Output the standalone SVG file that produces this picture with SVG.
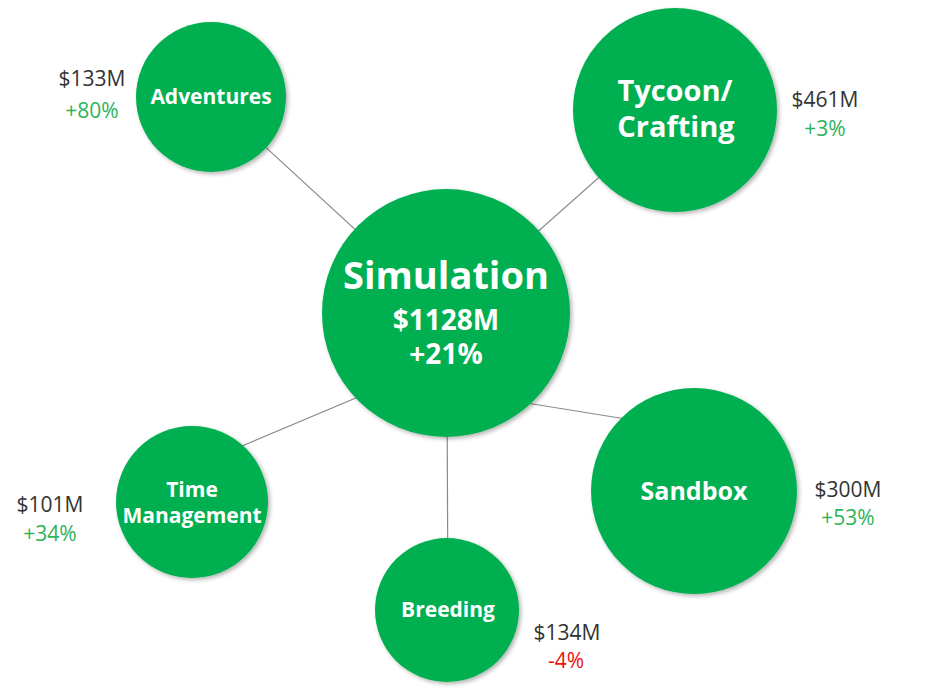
<svg xmlns="http://www.w3.org/2000/svg" width="939" height="695" viewBox="0 0 939 695">
<defs>
<filter id="sh" x="-20%" y="-20%" width="140%" height="140%">
<feDropShadow dx="2" dy="2" stdDeviation="2" flood-color="#000" flood-opacity="0.3"/>
</filter>
</defs>
<style>
.n{fill:#00AF4F;filter:url(#sh)}
.t{font-family:"Open Sans","Liberation Sans",sans-serif;font-weight:bold;fill:#fff;text-anchor:middle}
.v{font-family:"Open Sans","Liberation Sans",sans-serif;font-size:21px;fill:#333;text-anchor:middle}
.g{font-family:"Open Sans","Liberation Sans",sans-serif;font-size:21px;fill:#2DB35A;text-anchor:middle}
.r{font-family:"Open Sans","Liberation Sans",sans-serif;font-size:21px;fill:#EE1111;text-anchor:middle}
.c{stroke:#8a8a8a;stroke-width:1.2;fill:none}
</style>
<rect width="939" height="695" fill="#fff"/>
<g id="connectors">
<line class="c" x1="211" y1="97" x2="446" y2="313"/>
<line class="c" x1="675" y1="110" x2="446" y2="313"/>
<line class="c" x1="694" y1="430" x2="446" y2="390"/>
<line class="c" x1="192" y1="467" x2="446" y2="360"/>
<line class="c" x1="447" y1="390" x2="448" y2="610"/>
</g>
<g id="adventures">
<circle class="n" cx="211" cy="97" r="75"/>
<text class="t" x="211" y="104" font-size="21">Adventures</text>
<text class="v" x="92" y="86">$133M</text>
<text class="g" x="92" y="118">+80%</text>
</g>
<g id="tycoon">
<circle class="n" cx="675" cy="110" r="102"/>
<text class="t" x="675" y="101" font-size="29">Tycoon/</text>
<text class="t" x="676" y="137" font-size="29">Crafting</text>
<text class="v" x="825" y="107">$461M</text>
<text class="g" x="825" y="136">+3%</text>
</g>
<g id="simulation">
<circle class="n" cx="446" cy="313" r="124"/>
<text class="t" x="446" y="289" font-size="38">Simulation</text>
<text class="t" x="446" y="330" font-size="28">$1128M</text>
<text class="t" x="446" y="364" font-size="28">+21%</text>
</g>
<g id="sandbox">
<circle class="n" cx="694" cy="491" r="103"/>
<text class="t" x="694" y="500" font-size="25">Sandbox</text>
<text class="v" x="848" y="497">$300M</text>
<text class="g" x="848" y="525">+53%</text>
</g>
<g id="time-management">
<circle class="n" cx="192" cy="502" r="76"/>
<text class="t" x="192" y="497" font-size="21">Time</text>
<text class="t" x="192" y="523" font-size="21">Management</text>
<text class="v" x="50" y="512">$101M</text>
<text class="g" x="50" y="541">+34%</text>
</g>
<g id="breeding">
<circle class="n" cx="447" cy="610" r="72"/>
<text class="t" x="448" y="617" font-size="21">Breeding</text>
<text class="v" x="567" y="640">$134M</text>
<text class="r" x="566" y="668">-4%</text>
</g>
</svg>
